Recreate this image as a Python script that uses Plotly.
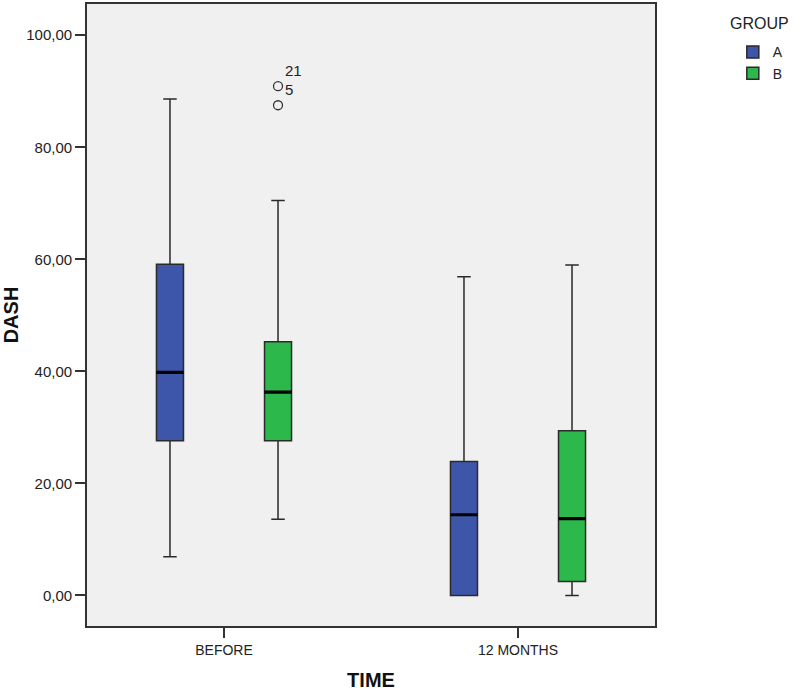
import plotly.graph_objects as go

# ---- data ----
categories = ["BEFORE", "12 MONTHS"]
groups = ["A", "B"]

a_lower = [6.9, 0.0]
a_q1 = [27.6, 0.0]
a_median = [39.8, 14.4]
a_q3 = [59.1, 23.9]
a_upper = [88.6, 56.9]

b_lower = [13.6, 0.0]
b_q1 = [27.6, 2.5]
b_median = [36.3, 13.7]
b_q3 = [45.3, 29.4]
b_upper = [70.5, 59.0]

outlier_cat = ["BEFORE", "BEFORE"]
outlier_vals = [90.9, 87.5]
outlier_ids = ["21", "5"]

y_ticks = [0, 20, 40, 60, 80, 100]

# ---- styles ----
FONT = "Liberation Sans, Arial, sans-serif"
TXT = "#222222"
colors = {"A": "#3D56AA", "B": "#2DB84B"}
edge = "#2a2a2a"

stats = {
    "A": (a_lower, a_q1, a_median, a_q3, a_upper),
    "B": (b_lower, b_q1, b_median, b_q3, b_upper),
}

fig = go.Figure()
for g in groups:
    lo, q1, med, q3, up = stats[g]
    fig.add_trace(go.Box(
        name=g, x=categories, q1=q1, median=med, q3=q3,
        lowerfence=lo, upperfence=up,
        offsetgroup=g, legendgroup=g,
        fillcolor=colors[g], line=dict(color=edge, width=1.5),
        whiskerwidth=0.5, boxpoints=False, hoverinfo="skip",
    ))
    # thicker median line overlay
    fig.add_trace(go.Box(
        name=g, x=categories, q1=med, median=med, q3=med,
        lowerfence=med, upperfence=med,
        offsetgroup=g, legendgroup=g, showlegend=False,
        fillcolor="rgba(0,0,0,0)", line=dict(color="#000000", width=3.2),
        whiskerwidth=0.5, boxpoints=False, hoverinfo="skip",
    ))

# outliers for group B (invisible box, visible points)
fig.add_trace(go.Box(
    name="B", x=outlier_cat, y=outlier_vals,
    offsetgroup="B", legendgroup="B", showlegend=False,
    boxpoints="all", jitter=0, pointpos=0,
    fillcolor="rgba(0,0,0,0)", line=dict(color="rgba(0,0,0,0)", width=0),
    marker=dict(symbol="circle-open", size=9, color="#333333",
                line=dict(width=1.3, color="#333333")),
    hoverinfo="skip",
))

for v, lab in zip(outlier_vals, outlier_ids):
    fig.add_annotation(
        x=categories[0], y=v, text=lab, showarrow=False,
        xanchor="left", yanchor="bottom", xshift=59, yshift=5,
        font=dict(family=FONT, size=15, color=TXT),
    )

# legend heading
fig.add_annotation(
    xref="paper", yref="paper", x=1.1285, y=0.968,
    xanchor="left", yanchor="middle", text="GROUP", showarrow=False,
    font=dict(family=FONT, size=16, color=TXT),
)

fig.update_layout(
    width=796, height=691,
    margin=dict(l=87, r=141, t=2, b=65),
    paper_bgcolor="white", plot_bgcolor="#F0F0F0",
    boxmode="group", boxgap=0.265, boxgroupgap=0.75,
    separators=", ",
    font=dict(family=FONT, color=TXT),
    showlegend=True,
    legend=dict(
        font=dict(family=FONT, size=14, color=TXT),
        x=1.137, xanchor="left", y=0.948, yanchor="top",
        bgcolor="rgba(0,0,0,0)", tracegroupgap=0, itemwidth=30,
    ),
    xaxis=dict(
        type="category", categoryorder="array", categoryarray=categories,
        range=[-0.466, 1.466],
        showline=True, mirror=True, linecolor="#333333", linewidth=1.8,
        ticks="outside", ticklen=10, tickwidth=1.8, tickcolor="#333333",
        tickfont=dict(family=FONT, size=14, color=TXT),
        showgrid=False, zeroline=False,
        title=dict(text="<b>TIME</b>", standoff=16,
                   font=dict(family=FONT, size=20, color="#111111")),
    ),
    yaxis=dict(
        range=[-5.46, 105.57],
        tickvals=y_ticks, tickformat=".2f",
        showline=True, mirror=True, linecolor="#333333", linewidth=1.8,
        ticks="outside", ticklen=10, tickwidth=1.8, tickcolor="#333333",
        tickfont=dict(family=FONT, size=15, color=TXT),
        showgrid=False, zeroline=False,
        title=dict(text="<b>DASH</b>", standoff=8,
                   font=dict(family=FONT, size=20, color="#111111")),
    ),
)

fig.write_html(
    "out.html",
    config={"displayModeBar": False},
    post_script="document.body.style.margin='0px';document.body.style.overflow='hidden';",
)
